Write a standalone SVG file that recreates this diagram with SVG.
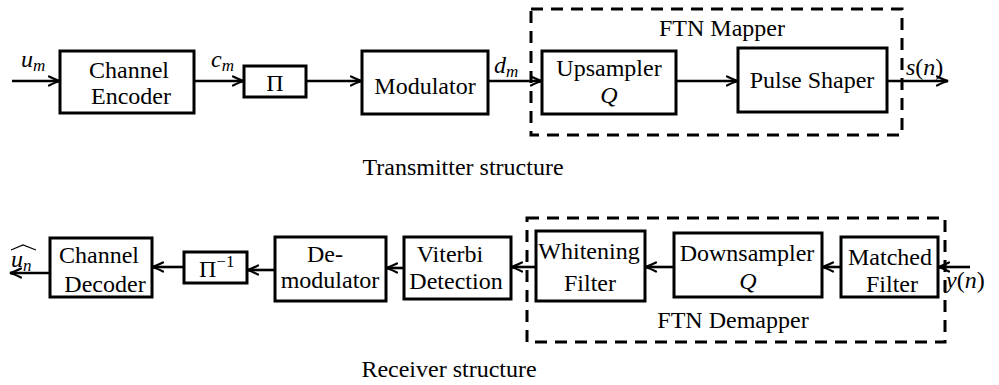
<svg xmlns="http://www.w3.org/2000/svg" width="999" height="385" viewBox="0 0 999 385">
  <style>
    .blk { fill: #fff; stroke: #000; stroke-width: 3; }
    .grp { fill: none; stroke: #000; stroke-width: 3; stroke-dasharray: 12 8; }
    .wire { fill: none; stroke: #000; stroke-width: 2.6; }
    text { font-family: "Liberation Serif", "Times New Roman", serif; font-size: 24px; fill: #000; }
    .c { text-anchor: middle; }
    .m { font-style: italic; }
    .sub { font-style: italic; font-size: 17px; }
    .sup { font-size: 17px; }
  </style>
  <defs>
    <marker id="arrow" markerUnits="userSpaceOnUse" orient="auto" refX="0" refY="0"
            markerWidth="20" markerHeight="20" viewBox="-14 -10 20 20" overflow="visible">
      <path d="M -11 -4.5 Q -4 -1 0 0 Q -4 1 -11 4.5" fill="none" stroke="#000" stroke-width="2.2" stroke-linecap="round"/>
    </marker>
  </defs>

  <rect width="999" height="385" fill="#fff"/>

  <!-- dashed groupings -->
  <g id="ftn-mapper">
    <rect class="grp" x="531" y="9" width="371" height="126"/>
    <text class="c" x="722" y="36">FTN Mapper</text>
  </g>
  <g id="ftn-demapper">
    <rect class="grp" x="527" y="218" width="418" height="124"/>
    <text class="c" x="733" y="328">FTN Demapper</text>
  </g>

  <!-- transmitter chain -->
  <g id="channel-encoder">
    <rect class="blk" x="60" y="51" width="134" height="62"/>
    <text class="c" x="129" y="78">Channel</text>
    <text class="c" x="131" y="104">Encoder</text>
  </g>
  <g id="interleaver">
    <rect class="blk" x="244" y="66" width="62" height="31"/>
    <text class="c" x="275" y="91">Π</text>
  </g>
  <g id="modulator">
    <rect class="blk" x="362" y="51" width="126" height="63"/>
    <text class="c" x="425" y="94">Modulator</text>
  </g>
  <g id="upsampler">
    <rect class="blk" x="542" y="51" width="134" height="63"/>
    <text class="c" x="609" y="76">Upsampler</text>
    <text class="c m" x="609" y="103">Q</text>
  </g>
  <g id="pulse-shaper">
    <rect class="blk" x="738" y="48" width="149" height="64"/>
    <text class="c" x="812" y="88">Pulse Shaper</text>
  </g>

  <!-- receiver chain -->
  <g id="channel-decoder">
    <rect class="blk" x="50" y="238" width="102" height="59"/>
    <text class="c" x="99" y="263">Channel</text>
    <text class="c" x="105" y="292">Decoder</text>
  </g>
  <g id="deinterleaver">
    <rect class="blk" x="184" y="252" width="63" height="31"/>
    <text x="199" y="277">Π<tspan class="sup" dy="-10">−1</tspan></text>
  </g>
  <g id="demodulator">
    <rect class="blk" x="275" y="237" width="111" height="64"/>
    <text class="c" x="325" y="262">De-</text>
    <text class="c" x="330" y="288">modulator</text>
  </g>
  <g id="viterbi-detection">
    <rect class="blk" x="404" y="237" width="107" height="62"/>
    <text class="c" x="450" y="262">Viterbi</text>
    <text class="c" x="456" y="289">Detection</text>
  </g>
  <g id="whitening-filter">
    <rect class="blk" x="536" y="231" width="109" height="70"/>
    <text class="c" x="589" y="259">Whitening</text>
    <text class="c" x="590" y="291">Filter</text>
  </g>
  <g id="downsampler">
    <rect class="blk" x="674" y="233" width="148" height="64"/>
    <text class="c" x="747" y="261">Downsampler</text>
    <text class="c m" x="748" y="289">Q</text>
  </g>
  <g id="matched-filter">
    <rect class="blk" x="841" y="237" width="97" height="60"/>
    <text class="c" x="890" y="265">Matched</text>
    <text class="c" x="892" y="292">Filter</text>
  </g>

  <!-- connectors -->
  <g id="connectors">
    <line class="wire" x1="12" y1="81" x2="60" y2="81" marker-end="url(#arrow)"/>
    <line class="wire" x1="194" y1="81" x2="244" y2="81" marker-end="url(#arrow)"/>
    <line class="wire" x1="306" y1="81" x2="362" y2="81" marker-end="url(#arrow)"/>
    <line class="wire" x1="488" y1="81" x2="542" y2="81" marker-end="url(#arrow)"/>
    <line class="wire" x1="676" y1="81" x2="738" y2="81" marker-end="url(#arrow)"/>
    <line class="wire" x1="887" y1="81" x2="948" y2="81" marker-end="url(#arrow)"/>

    <line class="wire" x1="970" y1="267" x2="938" y2="267" marker-end="url(#arrow)"/>
    <line class="wire" x1="841" y1="267" x2="822" y2="267" marker-end="url(#arrow)"/>
    <line class="wire" x1="674" y1="267" x2="645" y2="267" marker-end="url(#arrow)"/>
    <line class="wire" x1="536" y1="267" x2="511" y2="267" marker-end="url(#arrow)"/>
    <line class="wire" x1="404" y1="268" x2="386" y2="268" marker-end="url(#arrow)"/>
    <line class="wire" x1="275" y1="270" x2="247" y2="270" marker-end="url(#arrow)"/>
    <line class="wire" x1="184" y1="267" x2="152" y2="267" marker-end="url(#arrow)"/>
    <line class="wire" x1="50" y1="273" x2="10" y2="273" marker-end="url(#arrow)"/>
  </g>

  <!-- signal labels -->
  <g id="labels">
    <text class="m" x="21" y="67">u<tspan class="sub" dy="4">m</tspan></text>
    <text class="m" x="211" y="67">c<tspan class="sub" dy="4">m</tspan></text>
    <text class="m" x="494" y="73">d<tspan class="sub" dy="4">m</tspan></text>
    <text x="906" y="75"><tspan class="m">s</tspan>(<tspan class="m">n</tspan>)</text>
    <text class="m" x="11" y="267">u<tspan class="sub" dy="4">n</tspan></text>
    <path d="M 11 250 L 23 245 L 36 250" fill="none" stroke="#000" stroke-width="1.2"/>
    <text x="946" y="288"><tspan class="m">y</tspan>(<tspan class="m">n</tspan>)</text>
  </g>

  <!-- captions -->
  <text class="c" x="463" y="175">Transmitter structure</text>
  <text class="c" x="449" y="377">Receiver structure</text>
</svg>
